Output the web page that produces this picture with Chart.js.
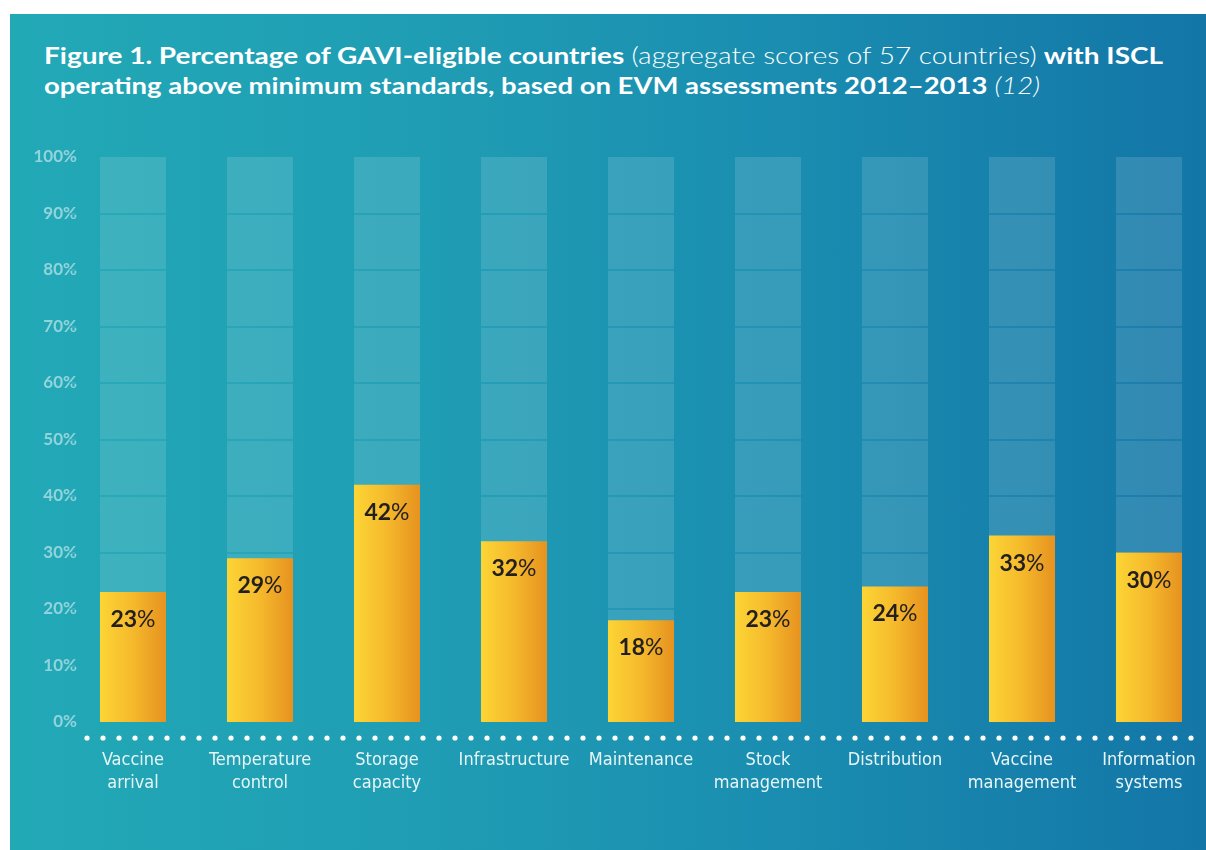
<!DOCTYPE html>
<html>
<head>
<meta charset="utf-8">
<script src="https://cdn.jsdelivr.net/npm/chart.js@4/dist/chart.umd.min.js"></script>
<style>
  html, body { margin:0; padding:0; background:#fff; width:1206px; height:850px; overflow:hidden; }
  #panel {
    position:absolute; left:10px; top:14px; width:1196px; height:836px;
    background: linear-gradient(90deg, #22a9b6 0%, #1f9db4 35%, #1a8db0 65%, #1376a7 100%);
  }
  #title {
    position:absolute; left:44px; top:40px; color:#fff;
    font-family: Lato, "Open Sans", sans-serif; font-size:23.5px; line-height:30px;
    white-space:nowrap;
  }
  #title .line { display:block; transform-origin:0 0; width:max-content; }
  #title b { font-weight:700; }
  #title .light { font-weight:300; }
  #title i { font-weight:300; }
  #chart { position:absolute; left:0; top:0; }
</style>
</head>
<body>
<div id="panel"></div>
<div id="title">
  <span class="line" data-w="1119"><b>Figure 1. Percentage of GAVI-eligible countries</b> <span class="light">(aggregate scores of 57 countries)</span> <b>with ISCL</b></span>
  <span class="line" data-w="996"><b>operating above minimum standards, based on EVM assessments 2012–2013</b> <i>(12)</i></span>
</div>
<canvas id="chart" width="1206" height="850"></canvas>
<script>
const categories = [
  ["Vaccine", "arrival"],
  ["Temperature", "control"],
  ["Storage", "capacity"],
  ["Infrastructure"],
  ["Maintenance"],
  ["Stock", "management"],
  ["Distribution"],
  ["Vaccine", "management"],
  ["Information", "systems"]
];
const scores = [23, 29, 42, 32, 18, 23, 24, 33, 30];
const fullScale = [100, 100, 100, 100, 100, 100, 100, 100, 100];
const yTicks = [0, 10, 20, 30, 40, 50, 60, 70, 80, 90, 100];

const BAR_PCT = 0.52;

// fit each title line to the width it has in the original
document.querySelectorAll("#title .line").forEach(el => {
  const w = el.getBoundingClientRect().width;
  el.style.transform = `scaleX(${(+el.dataset.w / w).toFixed(4)})`;
});

// spacing between category centres (x axis has no offset)
function catStep(xs) {
  return xs.width / (categories.length - 1);
}

function goldFill(c) {
  const xs = c.chart.scales.x;
  if (c.dataIndex === undefined || !xs || !xs.width) return "#f2b42b";
  const cx = xs.getPixelForValue(c.dataIndex);
  const half = catStep(xs) * BAR_PCT / 2;
  const g = c.chart.ctx.createLinearGradient(cx - half, 0, cx + half, 0);
  g.addColorStop(0, "#fcd535");
  g.addColorStop(0.5, "#f5b92c");
  g.addColorStop(1, "#e6921f");
  return g;
}

// cut the 10% lines out of the pale background bars
const gridCut = {
  id: "gridCut",
  afterDatasetDraw(chart, args) {
    if (args.index !== 1) return;
    const { ctx } = chart;
    const xs = chart.scales.x, ys = chart.scales.y;
    const step = catStep(xs);
    ctx.save();
    ctx.globalCompositeOperation = "destination-out";
    ctx.strokeStyle = "rgba(0,0,0,0.7)";
    ctx.lineWidth = 2;
    yTicks.slice(1, -1).forEach(v => {
      const y = Math.round(ys.getPixelForValue(v));
      ctx.beginPath();
      ctx.moveTo(xs.left - step / 2, y);
      ctx.lineTo(xs.right + step / 2, y);
      ctx.stroke();
    });
    ctx.restore();
  }
};

const valueLabels = {
  id: "valueLabels",
  afterDatasetsDraw(chart) {
    const { ctx } = chart;
    const meta = chart.getDatasetMeta(0);
    const bold = "bold 23px Lato, 'Open Sans', sans-serif";
    const reg = "normal 23px Lato, 'Open Sans', sans-serif";
    ctx.save();
    ctx.fillStyle = "#231f20";
    ctx.textBaseline = "alphabetic";
    ctx.textAlign = "left";
    meta.data.forEach((bar, i) => {
      const num = String(scores[i]);
      ctx.font = bold;
      const wNum = ctx.measureText(num).width;
      ctx.font = reg;
      const wPct = ctx.measureText("%").width;
      const x0 = bar.x - (wNum + wPct) / 2;
      const y = bar.y + 35;
      ctx.font = bold;
      ctx.fillText(num, x0, y);
      ctx.font = reg;
      ctx.fillText("%", x0 + wNum, y);
    });
    ctx.restore();
  }
};

const dottedBase = {
  id: "dottedBase",
  afterDraw(chart) {
    const { ctx } = chart;
    ctx.save();
    ctx.fillStyle = "#ffffff";
    for (let x = 87; x < 1202; x += 16) {
      ctx.beginPath();
      ctx.arc(x, 738, 2.6, 0, Math.PI * 2);
      ctx.fill();
    }
    ctx.restore();
  }
};

new Chart(document.getElementById("chart"), {
  type: "bar",
  data: {
    labels: categories,
    datasets: [
      {
        label: "Score",
        data: scores,
        backgroundColor: goldFill,
        borderWidth: 0,
        barPercentage: BAR_PCT,
        categoryPercentage: 1,
        grouped: false,
        clip: false,
        order: 0
      },
      {
        label: "Scale",
        data: fullScale,
        backgroundColor: "rgba(255,255,255,0.13)",
        borderWidth: 0,
        barPercentage: BAR_PCT,
        categoryPercentage: 1,
        grouped: false,
        clip: false,
        order: 1
      }
    ]
  },
  options: {
    responsive: false,
    animation: false,
    layout: { padding: { top: 157, right: 57, left: 0, bottom: 0 } },
    plugins: {
      legend: { display: false },
      tooltip: { enabled: false }
    },
    scales: {
      x: {
        offset: false,
        grid: { display: false, drawTicks: false },
        border: { display: false },
        afterFit: s => { s.height = 128; s.paddingLeft = 0; s.paddingRight = 0; },
        ticks: {
          color: "#e8f5f7",
          padding: 27,
          autoSkip: false,
          maxRotation: 0,
          font: { family: "'DejaVu Sans Condensed', 'DejaVu Sans', sans-serif", size: 18, lineHeight: 1.28 }
        }
      },
      y: {
        min: 0,
        max: 100,
        grid: { display: false, drawTicks: false },
        border: { display: false },
        afterFit: s => { s.width = 133; },
        afterBuildTicks: s => { s.ticks = yTicks.map(v => ({ value: v })); },
        ticks: {
          color: "rgba(255,255,255,0.5)",
          padding: 56,
          callback: v => v + "%",
          font: { family: "Lato, 'Open Sans', sans-serif", size: 17, weight: "bold" }
        }
      }
    }
  },
  plugins: [gridCut, valueLabels, dottedBase]
});
</script>
</body>
</html>
